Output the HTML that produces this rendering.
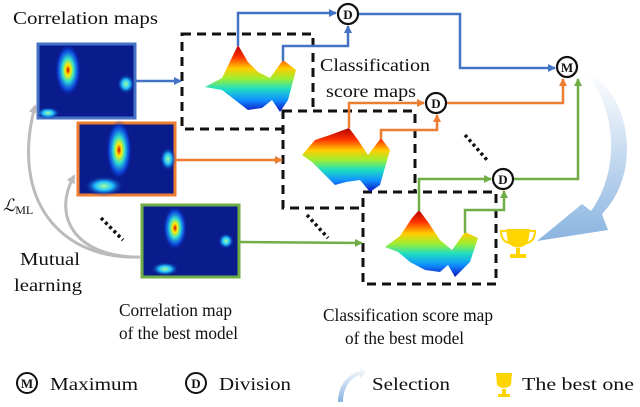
<!DOCTYPE html>
<html><head><meta charset="utf-8"><style>
html,body{margin:0;padding:0;background:#fff;}
svg{display:block;font-family:"Liberation Serif",serif;}
text{font-family:"Liberation Serif",serif;fill:#111;}
</style></head><body>
<svg width="640" height="407" viewBox="0 0 640 407" font-family="Liberation Serif, serif">
<defs>
<linearGradient id="surf" x1="0" y1="0" x2="0" y2="1">
<stop offset="0" stop-color="#b00000"/><stop offset="0.18" stop-color="#ff3300"/><stop offset="0.35" stop-color="#ffcc00"/><stop offset="0.5" stop-color="#a0ee30"/><stop offset="0.65" stop-color="#20e0c0"/><stop offset="0.82" stop-color="#1090ff"/><stop offset="1" stop-color="#1010c0"/>
</linearGradient>
<radialGradient id="blob"><stop offset="0" stop-color="#d00000"/><stop offset="0.2" stop-color="#ffee00"/><stop offset="0.45" stop-color="#30e0d0"/><stop offset="0.75" stop-color="#1060ff" stop-opacity="0.7"/><stop offset="1" stop-color="#0010a0" stop-opacity="0"/></radialGradient>
<radialGradient id="blobc"><stop offset="0" stop-color="#a0ffa0"/><stop offset="0.45" stop-color="#20c0ff"/><stop offset="1" stop-color="#0010a0" stop-opacity="0"/></radialGradient>
<linearGradient id="sel" x1="0" y1="0" x2="0" y2="1"><stop offset="0" stop-color="#ffffff"/><stop offset="1" stop-color="#8ab4e0"/></linearGradient>
<marker id="ab" markerWidth="8" markerHeight="8" refX="7" refY="4" orient="auto" markerUnits="userSpaceOnUse"><path d="M0,0 L8,4 L0,8 Z" fill="#4472c4"/></marker>
<marker id="ao" markerWidth="8" markerHeight="8" refX="7" refY="4" orient="auto" markerUnits="userSpaceOnUse"><path d="M0,0 L8,4 L0,8 Z" fill="#ed7d31"/></marker>
<marker id="ag" markerWidth="8" markerHeight="8" refX="7" refY="4" orient="auto" markerUnits="userSpaceOnUse"><path d="M0,0 L8,4 L0,8 Z" fill="#70ad47"/></marker>
<marker id="agr" markerWidth="9" markerHeight="9" refX="7" refY="4.5" orient="auto" markerUnits="userSpaceOnUse"><path d="M0,0 L9,4.5 L0,9 Z" fill="#bbb"/></marker>
</defs>

<text x="13" y="24" font-size="18" textLength="145" lengthAdjust="spacingAndGlyphs">Correlation maps</text>

<g>
<rect x="38" y="44" width="97" height="74" fill="#0a1c8c" stroke="#4472c4" stroke-width="3"/>
<ellipse cx="68" cy="70" rx="13" ry="26" fill="url(#blob)"/><ellipse cx="126" cy="84" rx="9" ry="10" fill="url(#blobc)"/><ellipse cx="48" cy="113" rx="12" ry="6" fill="url(#blobc)"/>
</g>
<g>
<rect x="78" y="123" width="97" height="72" fill="#0a1c8c" stroke="#ed7d31" stroke-width="3"/>
<ellipse cx="119" cy="150" rx="13" ry="30" fill="url(#blob)"/><ellipse cx="168" cy="159" rx="8" ry="12" fill="url(#blobc)"/><ellipse cx="104" cy="186" rx="20" ry="10" fill="url(#blobc)"/>
</g>
<g>
<rect x="142" y="205" width="97" height="72" fill="#0a1c8c" stroke="#70ad47" stroke-width="3"/>
<ellipse cx="175" cy="228" rx="12" ry="22" fill="url(#blob)"/><ellipse cx="226" cy="241" rx="8" ry="8" fill="url(#blobc)"/><ellipse cx="165" cy="269" rx="14" ry="7" fill="url(#blobc)"/>
</g>

<g stroke="#111" stroke-width="3" stroke-dasharray="9,6" fill="#fff">
<rect x="182" y="34" width="131" height="95"/>
<rect x="283" y="111" width="132" height="97"/>
<rect x="363" y="192" width="133" height="92"/>
</g>

<path d="M205,87 L222,78 L238,45 L248,62 L258,72 L270,78 L283,60 L296,70 L288,100 L280,112 L272,100 L262,108 L248,110 L235,100 L222,90 Z" fill="url(#surf)"/>
<path d="M302,155 L315,140 L330,135 L349,128 L358,140 L368,155 L381,138 L390,150 L380,185 L370,192 L360,180 L346,182 L335,185 L325,175 L312,162 Z" fill="url(#surf)"/>
<path d="M385,247 L400,236 L412,218 L419,210 L428,222 L440,240 L452,250 L465,232 L478,238 L470,262 L455,277 L448,265 L440,272 L425,270 L410,262 L398,252 Z" fill="url(#surf)"/>

<g fill="none" stroke="#4472c4" stroke-width="2.5">
<path d="M136,81 L181,81" marker-end="url(#ab)"/>
<path d="M238,46 L238,13 L336,13" marker-end="url(#ab)"/>
<path d="M283,61 L283,46 L348,46 L348,26" marker-end="url(#ab)"/>
<path d="M359,14 L460,14 L460,68 L555,68" marker-end="url(#ab)"/>
</g>
<g fill="none" stroke="#ed7d31" stroke-width="2.5">
<path d="M176,160 L282,160" marker-end="url(#ao)"/>
<path d="M349,128 L349,103 L424,103" marker-end="url(#ao)"/>
<path d="M381,139 L381,130 L437,130 L437,115" marker-end="url(#ao)"/>
<path d="M447,103 L563,103 L563,79" marker-end="url(#ao)"/>
</g>
<g fill="none" stroke="#70ad47" stroke-width="2.5">
<path d="M240,242 L362,243" marker-end="url(#ag)"/>
<path d="M419,211 L419,179 L491,179" marker-end="url(#ag)"/>
<path d="M465,233 L465,210 L504,210 L504,191" marker-end="url(#ag)"/>
<path d="M514,179 L578,179 L578,79" marker-end="url(#ag)"/>
</g>

<g fill="#fff" stroke="#111" stroke-width="2.2">
<circle cx="348" cy="14" r="10"/>
<circle cx="436" cy="103" r="10"/>
<circle cx="503" cy="179" r="10"/>
<circle cx="567" cy="67" r="10"/>
</g>
<g font-size="13" font-weight="bold" text-anchor="middle">
<text x="348" y="19">D</text><text x="436" y="108">D</text><text x="503" y="184">D</text><text x="567" y="72">M</text>
</g>

<g stroke="#111" stroke-width="3.5" stroke-dasharray="3,3">
<path d="M101,218 L123,240"/>
<path d="M307,215 L328,238"/>
<path d="M465,135 L487,160"/>
</g>

<g fill="none" stroke="#bbb" stroke-width="3">
<path d="M140,257 C60,260 10,200 35,106" marker-end="url(#agr)"/>
<path d="M140,257 C80,258 50,220 74,176" marker-end="url(#agr)"/>
</g>

<path d="M585,72 C628,88 645,170 602,214 L608,230 L537,241 L582,204 L591,211 C622,168 615,105 585,72 Z" fill="url(#sel)"/>
<g fill="#ffd500">
<path d="M506,229 L530,229 L528,243 Q518,252 508,243 Z"/><rect x="516" y="248" width="4" height="6"/><rect x="510" y="254" width="16" height="4"/>
<path d="M506,231 L501,231 Q501,241 509,243" fill="none" stroke="#ffd500" stroke-width="2"/><path d="M530,231 L535,231 Q535,241 527,243" fill="none" stroke="#ffd500" stroke-width="2"/>
</g>

<text x="320" y="71" font-size="18" textLength="110" lengthAdjust="spacingAndGlyphs">Classification</text>
<text x="326" y="97" font-size="18" textLength="90" lengthAdjust="spacingAndGlyphs">score maps</text>
<text x="3" y="211" font-size="17" font-style="italic">ℒ<tspan font-size="12" font-style="normal" dy="3">ML</tspan></text>
<text x="20" y="265" font-size="18" textLength="60" lengthAdjust="spacingAndGlyphs">Mutual</text>
<text x="14" y="291" font-size="18" textLength="68" lengthAdjust="spacingAndGlyphs">learning</text>
<text x="119" y="316" font-size="18" textLength="113" lengthAdjust="spacingAndGlyphs">Correlation map</text>
<text x="119" y="339" font-size="18" textLength="119" lengthAdjust="spacingAndGlyphs">of the best model</text>
<text x="323" y="321" font-size="18" textLength="170" lengthAdjust="spacingAndGlyphs">Classification score map</text>
<text x="345" y="344" font-size="18" textLength="119" lengthAdjust="spacingAndGlyphs">of the best model</text>

<g>
<circle cx="27" cy="383" r="10" fill="#fff" stroke="#111" stroke-width="2"/><text x="27" y="388" font-size="13" font-weight="bold" text-anchor="middle">M</text>
<text x="50" y="390" font-size="18" textLength="88" lengthAdjust="spacingAndGlyphs">Maximum</text>
<circle cx="196" cy="383" r="10" fill="#fff" stroke="#111" stroke-width="2"/><text x="196" y="388" font-size="13" font-weight="bold" text-anchor="middle">D</text>
<text x="219" y="390" font-size="18" textLength="72" lengthAdjust="spacingAndGlyphs">Division</text>
<path d="M338,402 C338,385 348,374 360,371 L359,366 L366,372 L360,378 L360,375 C350,378 343,388 343,402 Z" fill="url(#sel)"/>
<text x="372" y="390" font-size="18" textLength="78" lengthAdjust="spacingAndGlyphs">Selection</text>
<g fill="#ffd500"><path d="M496,373 L512,373 L511,385 Q504,391 497,385 Z"/><rect x="502" y="389" width="4" height="5"/><rect x="498" y="394" width="12" height="3"/></g>
<text x="522" y="390" font-size="18" textLength="112" lengthAdjust="spacingAndGlyphs">The best one</text>
</g>
</svg>
</body></html>
